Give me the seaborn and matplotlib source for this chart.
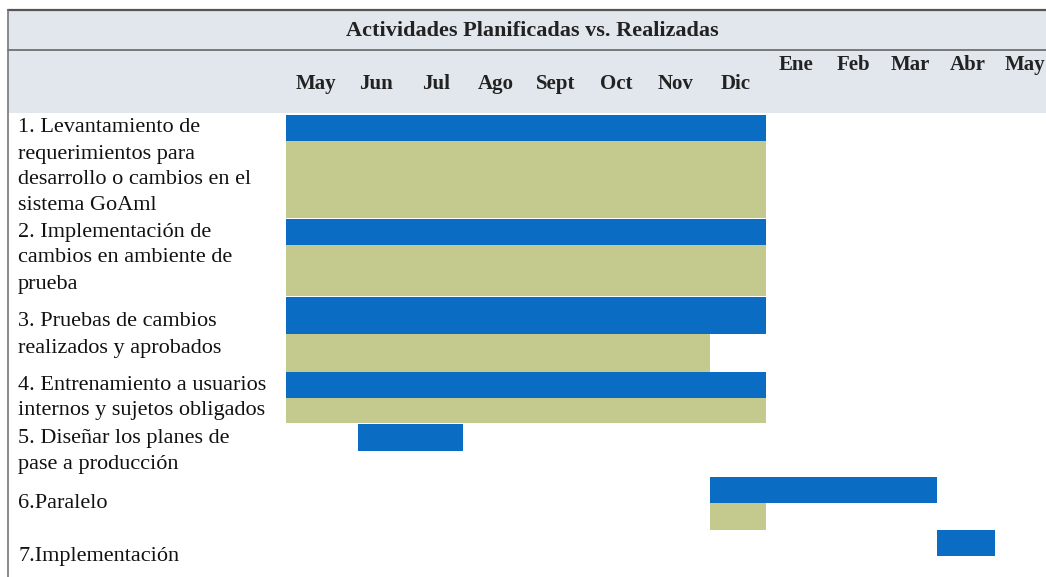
import matplotlib
matplotlib.use("Agg")
import matplotlib.pyplot as plt
from matplotlib.patches import Rectangle
from matplotlib.lines import Line2D
from matplotlib.transforms import blended_transform_factory
import seaborn as sns
import pandas as pd

# --- data (months counted from start of May) ---
title = "Actividades Planificadas vs. Realizadas"
months = ["May", "Jun", "Jul", "Ago", "Sept", "Oct", "Nov", "Dic",
          "Ene", "Feb", "Mar", "Abr", "May"]
tasks = [
    "1. Levantamiento de\nrequerimientos para\ndesarrollo o cambios en el\nsistema GoAml",
    "2. Implementación de\ncambios en ambiente de\nprueba",
    "3. Pruebas de cambios\nrealizados y aprobados",
    "4. Entrenamiento a usuarios\ninternos y sujetos obligados",
    "5. Diseñar los planes de\npase a producción",
    "6.Paralelo",
    "7.Implementación",
]
plan_start = [0, 0, 0, 0, 1.2, 7.07, 10.85]
plan_end = [8, 8, 8, 8, 2.95, 10.85, 11.82]
real_start = [0, 0, 0, 0, None, 7.07, None]
real_end = [8, 8, 7.07, 8, None, 8, None]

# --- layout (pixel rows of the table) ---
W, H = 1046, 577
row_top = [115, 219, 297, 372, 424, 477, 530]
blue_bot = [141, 245, 334, 398, 451, 503, 556]
green_bot = [218, 296, 372, 423, None, 530, None]
label_y = [128, 232, 322, 385, 438, 503, 556]
line_gap = 26

BLUE = "#0a6cc2"
GREEN = "#c4c98e"
HEAD_BG = "#e2e7ed"

sns.set_style("white")
plt.rcParams["font.family"] = ["Liberation Serif", "DejaVu Serif"]

df = pd.DataFrame({"task": tasks, "plan_start": plan_start, "plan_end": plan_end,
                   "real_start": real_start, "real_end": real_end})

fig = plt.figure(figsize=(W / 100, H / 100), dpi=100)


def fx(x):
    return x / W


def fy(y):
    return 1 - y / H


# header band
fig.add_artist(Rectangle((fx(8), fy(113)), 1 - fx(8), fy(10) - fy(113),
                         transform=fig.transFigure, facecolor=HEAD_BG,
                         edgecolor="none", zorder=0))
fig.add_artist(Line2D([fx(8), 1], [fy(10), fy(10)], transform=fig.transFigure,
                      color="#555555", lw=1.6))
fig.add_artist(Line2D([fx(8), 1], [fy(50), fy(50)], transform=fig.transFigure,
                      color="#666666", lw=1.2))
fig.add_artist(Line2D([fx(8), fx(8)], [fy(10), 0], transform=fig.transFigure,
                      color="#777777", lw=1.2))
fig.text(fx(532), fy(31), title, ha="center", va="center",
         fontsize=16, fontweight="bold", color="#222222")

x0 = (8 - 286) / 60
x1 = (W - 286) / 60
ax = fig.add_axes([fx(8), 0, 1 - fx(8), fy(113)])
ax.set_xlim(x0, x1)
ax.set_ylim(H, 113)
ax.axis("off")

for i, r in df.iterrows():
    top, bb, gb = row_top[i], blue_bot[i], green_bot[i]
    ax.barh((top + bb) / 2, r.plan_end - r.plan_start, left=r.plan_start,
            height=bb - top, color=BLUE, edgecolor="none")
    if gb is not None and pd.notna(r.real_start):
        ax.barh((bb + gb) / 2, r.real_end - r.real_start, left=r.real_start,
                height=gb - bb, color=GREEN, edgecolor="none")
    for k, line in enumerate(r.task.split("\n")):
        ax.text(x0 + 10 / 60, label_y[i] + k * line_gap, line, ha="left",
                va="center", fontsize=16, color="#111111")

# month labels in the header; the second year sits higher and a bit tighter
trans = blended_transform_factory(ax.transData, fig.transFigure)
for i, m in enumerate(months):
    if i < 8:
        xpos, ypx = i + 0.5, 84
    else:
        xpos, ypx = 8.5 + (i - 8) * 0.955, 65
    fig.text(xpos, fy(ypx), m, transform=trans, ha="center", va="center",
             fontsize=15, fontweight="bold", color="#222222")

fig.savefig("out.png", dpi=100)
